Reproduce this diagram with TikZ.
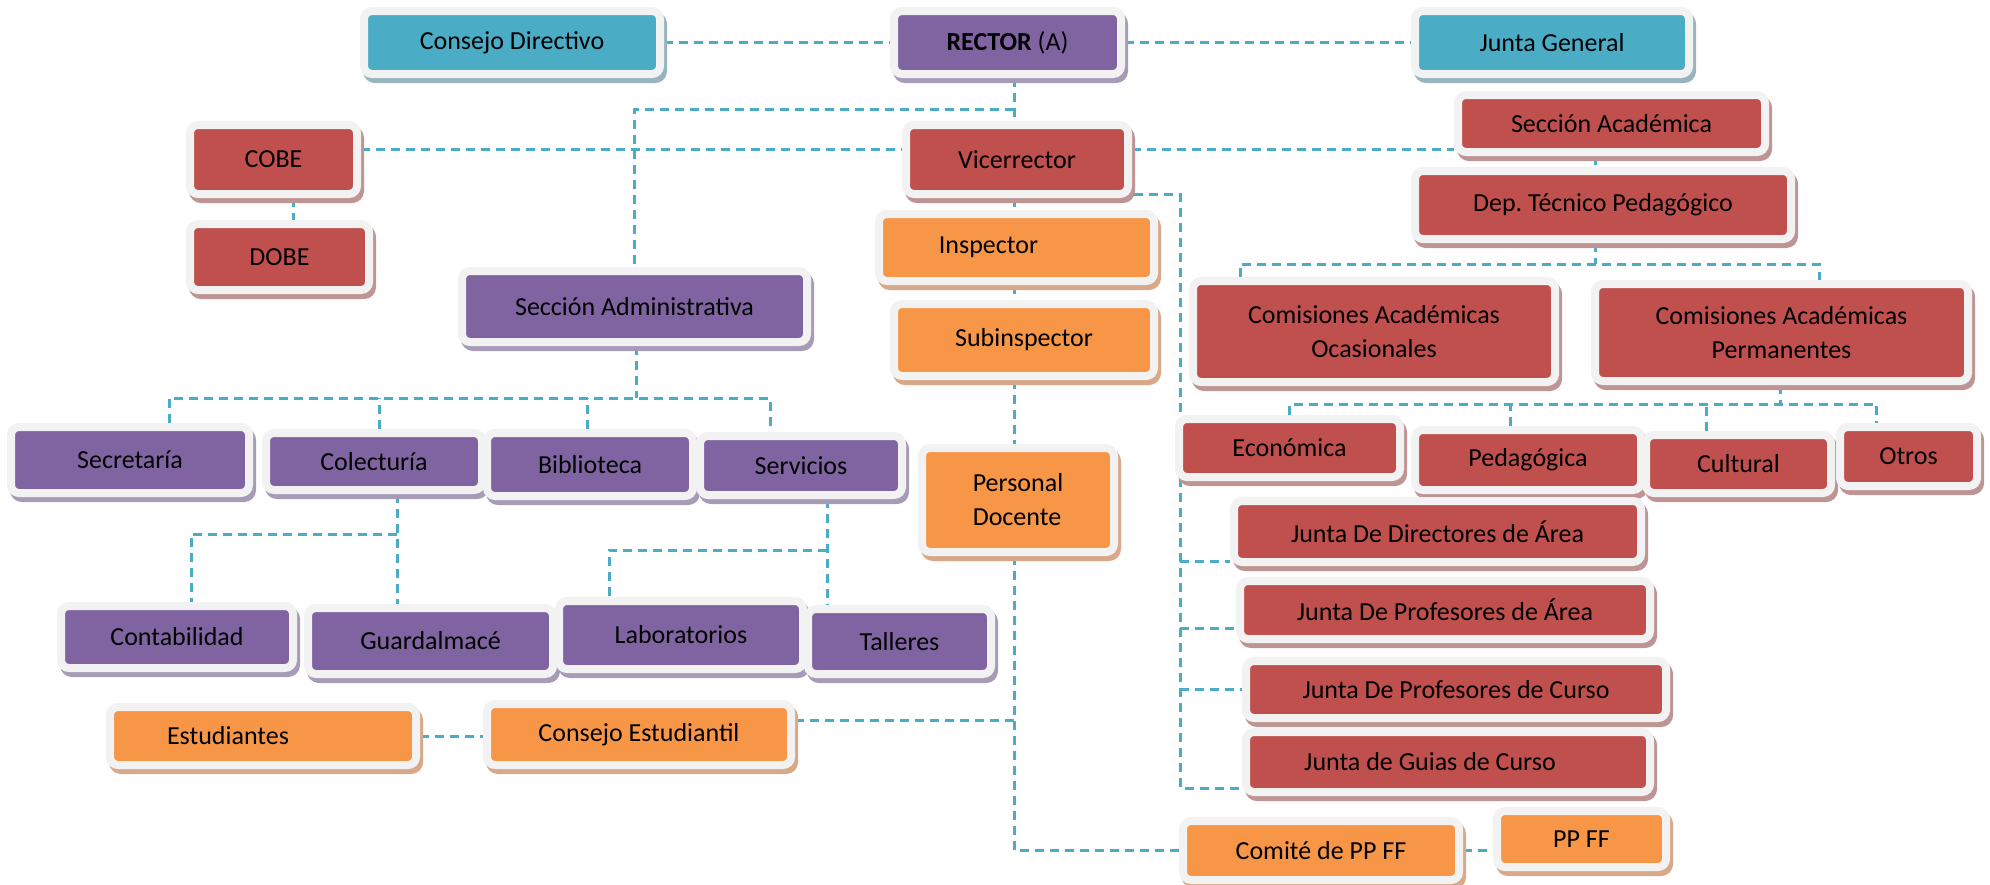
\documentclass[tikz,border=0pt]{standalone}
\usepackage{fontspec}
\setmainfont{Carlito}
\usepackage{xcolor}
\usepackage{tikz}
\usetikzlibrary{positioning,backgrounds}
\frenchspacing
\definecolor{tealfill}{HTML}{4BACC6}
\definecolor{purplefill}{HTML}{8064A2}
\definecolor{redfill}{HTML}{C0504D}
\definecolor{orangefill}{HTML}{F79646}
\definecolor{framegray}{HTML}{F2F2F2}
\definecolor{tealshade}{HTML}{98B4BE}
\definecolor{purpleshade}{HTML}{A79CB8}
\definecolor{redshade}{HTML}{BE9494}
\definecolor{orangeshade}{HTML}{D8A888}
\definecolor{linkblue}{HTML}{4BACC6}
\tikzset{
  box/.style={rectangle, rounded corners=4pt, draw=framegray, line width=4pt, inner sep=0pt, align=center, text=black, font=\fontsize{13}{17}\selectfont},
  sz/.style 2 args={minimum width=#1*0.5pt+4pt, minimum height=#2*0.5pt+4pt},
  backshadow/.style={preaction={draw=#1, line width=4pt, transform canvas={shift={(1.5pt,-2.5pt)}}}},
  tealbox/.style={box, fill=tealfill, backshadow=tealshade},
  purplebox/.style={box, fill=purplefill, backshadow=purpleshade},
  redbox/.style={box, fill=redfill, backshadow=redshade},
  orangebox/.style={box, fill=orangefill, backshadow=orangeshade},
  link/.style={draw=linkblue, line width=1.5pt, dash pattern=on 4.5pt off 3pt}
}

\begin{document}
\begin{tikzpicture}[x=0.5pt,y=-0.5pt]
\useasboundingbox (0,0) rectangle (1990,884);

\node[tealbox, sz={288}{55}] (cdir) at (512,42.5) {Consejo Directivo};
\node[purplebox, sz={219}{55}] (rector) at (1007.5,42.5) {\textbf{RECTOR} (A)};
\node[tealbox, sz={266}{55}] (jgen) at (1552,42.5) {Junta General};

\node[redbox, sz={159}{61}] (cobe) at (273.5,159.5) {COBE};
\node[redbox, sz={171}{58}] (dobe) at (279.5,257) {DOBE};
\node[redbox, sz={214}{61}] (vice) at (1017,159.5) {Vicerrector};
\node[redbox, sz={299}{49}] (sacad) at (1611.5,123.5) {Sección Académica};
\node[redbox, sz={368}{60}] (dept) at (1603,205) {Dep. Técnico Pedagógico};

\node[orangebox, sz={267}{59}] (insp) at (1016.5,247.5) {\hspace*{-28pt}Inspector};
\node[orangebox, sz={252}{64}] (subi) at (1024,340) {Subinspector};
\node[orangebox, sz={184}{96}, align=left] (pdoc) at (1018,500) {Personal\\Docente};

\node[purplebox, sz={337}{63}] (sadm) at (634.5,306.5) {Sección Administrativa};
\node[purplebox, sz={230}{58}] (secr) at (130,460) {Secretaría};
\node[purplebox, sz={208}{49}] (colec) at (374,461.5) {Colecturía};
\node[purplebox, sz={198}{55}] (bibl) at (590,464.5) {Biblioteca};
\node[purplebox, sz={194}{51}] (serv) at (801,465.5) {Servicios};
\node[purplebox, sz={224}{54}] (cont) at (177,637) {Contabilidad};
\node[purplebox, sz={237}{58}] (guard) at (430.5,641) {Guardalmacé};
\node[purplebox, sz={236}{60}] (lab) at (681,635) {Laboratorios};
\node[purplebox, sz={175}{57}] (tall) at (899.5,641.5) {Talleres};

\node[orangebox, sz={298}{50}] (est) at (263,736) {\hspace*{-35pt}Estudiantes};
\node[orangebox, sz={296}{53}] (cest) at (639,734.5) {Consejo Estudiantil};

\node[redbox, sz={354}{93}] (cao) at (1374,331.5) {Comisiones Académicas\\Ocasionales};
\node[redbox, sz={365}{89}] (cap) at (1781.5,332.5) {Comisiones Académicas\\Permanentes};
\node[redbox, sz={213}{50}] (econ) at (1289.5,448) {Económica};
\node[redbox, sz={218}{52}] (ped) at (1528,460) {Pedagógica};
\node[redbox, sz={177}{50}] (cult) at (1738.5,464) {Cultural};
\node[redbox, sz={129}{51}] (otros) at (1908.5,456.5) {Otros};

\node[redbox, sz={399}{53}] (jdir) at (1437.5,531.5) {Junta De Directores de Área};
\node[redbox, sz={402}{50}] (jpa) at (1445,610) {Junta De Profesores de Área};
\node[redbox, sz={412}{49}] (jpc) at (1456,689.5) {Junta De Profesores de Curso};
\node[redbox, sz={396}{52}] (jgc) at (1448,762) {\hspace*{-18pt}Junta de Guias de Curso};

\node[orangebox, sz={268}{51}] (comite) at (1321,850.5) {Comité de PP FF};
\node[orangebox, sz={161}{48}] (ppff) at (1581.5,839) {PP FF};

\coordinate (spine) at (1014,0);
\coordinate (admj) at (1014,109);
\coordinate (vj) at (1180,194);
\coordinate (dtp) at (1595,264);
\coordinate (cpb) at (1780,404);
\coordinate (sab) at (636,398);
\coordinate (cgb) at (397,534);
\coordinate (stb) at (827,550);

\begin{scope}[on background layer]
\draw[link] (cdir) -- (rector);
\draw[link] (rector) -- (jgen);
\draw[link] (spine |- rector.south) -- (spine |- vice.north);
\draw[link] (admj) -| (sadm.north);
\draw[link] ([yshift=5pt]cobe.east) -- ([yshift=5pt]cobe.east -| vice.west);
\draw[link] ([yshift=5pt]vice.east) -- ([yshift=5pt]vice.east -| sacad.west);
\draw[link] ([xshift=10pt]cobe.south) -- ([xshift=10pt]cobe.south |- dobe.north);

\draw[link] (spine |- vice.south) -- (spine |- insp.north);
\draw[link] (spine |- insp.south) -- (spine |- subi.north);
\draw[link] (spine |- subi.south) -- (spine |- pdoc.north);
\draw[link] (spine |- pdoc.south) |- (comite.west);
\draw[link] (comite.east) -- (comite.east -| ppff.west);
\draw[link] ([yshift=7pt]cest.east) -- ([yshift=7pt]cest.east -| spine);
\draw[link] (est.east) -- (est.east -| cest.west);

\draw[link] (spine |- vj) -- (vj) |- ([yshift=-13pt]jgc.west);
\draw[link] ([yshift=-15pt]jdir.west -| vj) -- ([yshift=-15pt]jdir.west);
\draw[link] ([yshift=-9pt]jpa.west -| vj) -- ([yshift=-9pt]jpa.west);
\draw[link] (jpc.west -| vj) -- (jpc.west);

\draw[link] (dtp |- sacad.south) -- (dtp |- dept.north);
\draw[link] (dtp |- dept.south) -- (dtp);
\draw[link] ([xshift=-67pt]cao.north) |- (dtp) -| ([xshift=19pt]cap.north);
\draw[link] (cpb |- cap.south) -- (cpb);
\draw[link] (econ.north) |- (cpb) -| ([xshift=-16pt]otros.north);
\draw[link] ([xshift=-9pt]ped.north) -- ([xshift=-9pt]ped.north |- cpb);
\draw[link] ([xshift=-16pt]cult.north) -- ([xshift=-16pt]cult.north |- cpb);

\draw[link] (sab |- sadm.south) -- (sab);
\draw[link] ([xshift=19.5pt]secr.north) |- (sab) -| ([xshift=-15.5pt]serv.north);
\draw[link] ([xshift=2.5pt]colec.north) -- ([xshift=2.5pt]colec.north |- sab);
\draw[link] ([xshift=-1.5pt]bibl.north) -- ([xshift=-1.5pt]bibl.north |- sab);
\draw[link] (cgb |- colec.south) -- (cgb |- guard.north);
\draw[link] (cgb) -| ([xshift=7pt]cont.north);
\draw[link] (stb |- serv.south) -- (stb |- tall.north);
\draw[link] (stb) -| ([xshift=-36pt]lab.north);
\end{scope}
\end{tikzpicture}
\end{document}
